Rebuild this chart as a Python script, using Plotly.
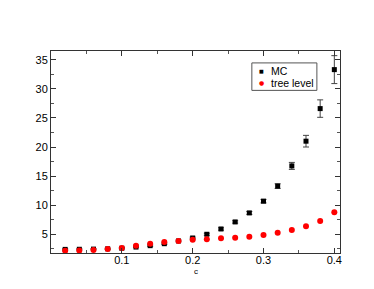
import plotly.graph_objects as go

c_vals = [0.02, 0.04, 0.06, 0.08, 0.10, 0.12, 0.14, 0.16, 0.18, 0.20,
          0.22, 0.24, 0.26, 0.28, 0.30, 0.32, 0.34, 0.36, 0.38, 0.40]
mc_vals = [2.40, 2.42, 2.45, 2.50, 2.60, 2.80, 3.04, 3.38, 3.85, 4.36,
           5.00, 5.91, 7.12, 8.67, 10.69, 13.28, 16.75, 21.0, 26.6, 33.3]
mc_err = [0.1, 0.1, 0.1, 0.1, 0.1, 0.1, 0.12, 0.12, 0.15, 0.15,
          0.18, 0.2, 0.2, 0.25, 0.3, 0.4, 0.6, 1.0, 1.5, 2.4]
tree_vals = [2.17, 2.20, 2.30, 2.47, 2.64, 3.04, 3.38, 3.67, 3.85, 4.05,
             4.14, 4.30, 4.41, 4.59, 4.88, 5.28, 5.74, 6.38, 7.29, 8.79]
x_ticks = [0.1, 0.2, 0.3, 0.4]
y_ticks = [5, 10, 15, 20, 25, 30, 35]
series_names = ["MC", "tree level"]
series_colors = ["black", "red"]
series_symbols = ["■", "●"]
x_title = "c"

FONT = "Liberation Sans, Arial"

fig = go.Figure()
fig.add_trace(go.Scatter(
    x=c_vals, y=mc_vals, mode="markers", name=series_names[0],
    marker=dict(symbol="square", size=5, color=series_colors[0]),
    error_y=dict(type="data", array=mc_err, visible=True,
                 color="#444", thickness=1, width=3),
))
fig.add_trace(go.Scatter(
    x=c_vals, y=tree_vals, mode="markers", name=series_names[1],
    marker=dict(symbol="circle", size=6, color=series_colors[1]),
))

axis_common = dict(
    showline=True, linecolor="#333", linewidth=1, mirror="allticks",
    ticks="inside", ticklen=5, tickcolor="#333", showgrid=False,
    zeroline=False, tickfont=dict(family=FONT, size=11, color="black"),
)
fig.update_xaxes(range=[0, 0.408], tickvals=x_ticks, ticklabelstandoff=-3,
                 minor=dict(ticks="inside", ticklen=3, dtick=0.05, tick0=0, tickcolor="#555", showgrid=False),
                 **axis_common)
fig.update_yaxes(range=[1.78, 36.5], tickvals=y_ticks,
                 minor=dict(ticks="inside", ticklen=3, dtick=2.5, tick0=0, tickcolor="#555", showgrid=False),
                 **axis_common)

fig.add_annotation(xref="paper", yref="paper", x=0.503, y=-0.094, text=x_title,
                   showarrow=False, xanchor="center", yanchor="middle",
                   font=dict(family=FONT, size=8, color="black"))

# custom compact legend
fig.add_shape(type="rect", xref="paper", yref="paper",
              x0=0.695, x1=0.920, y0=0.805, y1=0.941,
              line=dict(color="#555", width=1), fillcolor="white", layer="above")
row_y = [0.899, 0.842]
sym_sizes = [5, 6]
for name, col, sym, yy, ss in zip(series_names, series_colors, series_symbols, row_y, sym_sizes):
    fig.add_annotation(xref="paper", yref="paper", x=0.728, y=yy, text=sym,
                       showarrow=False, xanchor="center", yanchor="middle",
                       font=dict(family="DejaVu Sans", size=ss, color=col))
    fig.add_annotation(xref="paper", yref="paper", x=0.753, y=yy, text=name,
                       showarrow=False, xanchor="left", yanchor="middle",
                       font=dict(family=FONT, size=10.5, color="black"))

fig.update_layout(
    width=374, height=289,
    margin=dict(l=43, r=42, t=43, b=44),
    plot_bgcolor="white", paper_bgcolor="white",
    showlegend=False,
)
fig.write_html("out.html")
